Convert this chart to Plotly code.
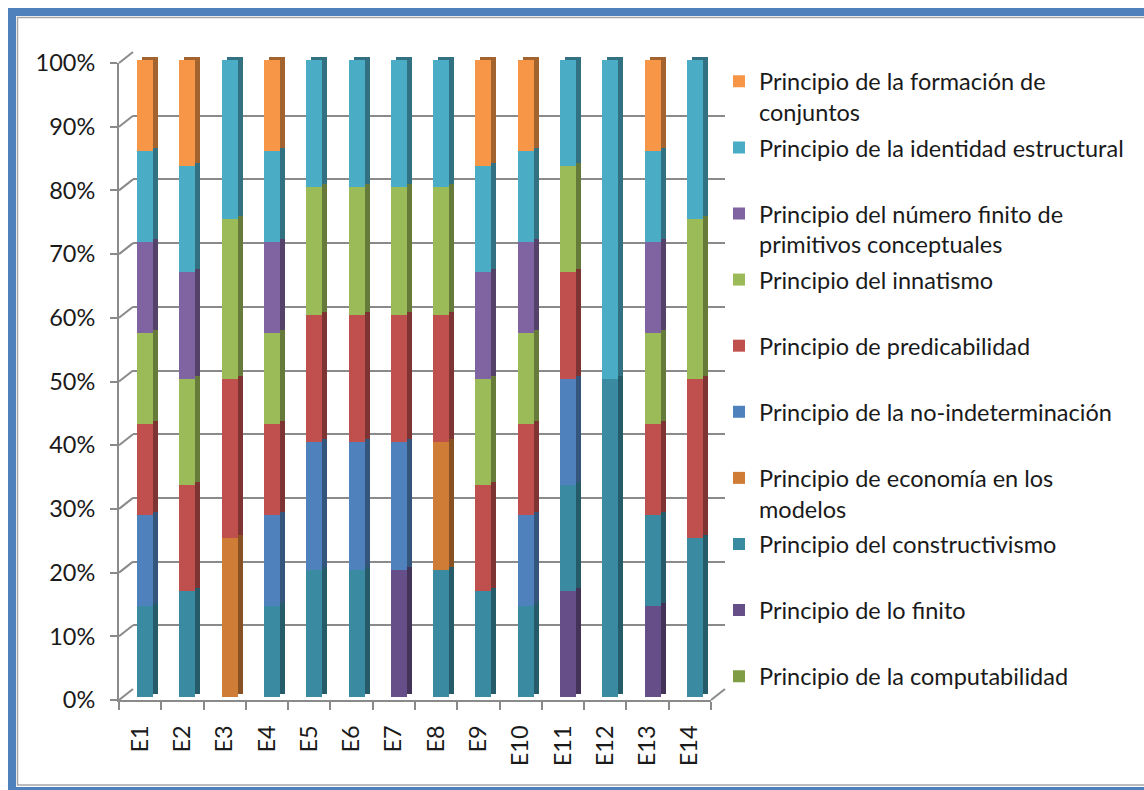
import plotly.graph_objects as go

# ---------------- data ----------------
categories = ["E1", "E2", "E3", "E4", "E5", "E6", "E7", "E8", "E9", "E10", "E11", "E12", "E13", "E14"]

# series listed bottom -> top of each stacked column
computabilidad   = [0, 0, 0, 0, 0, 0, 0, 0, 0, 0, 0, 0, 0, 0]
lo_finito        = [0, 0, 0, 0, 0, 0, 1, 0, 0, 0, 1, 0, 1, 0]
constructivismo  = [1, 1, 0, 1, 1, 1, 0, 1, 1, 1, 1, 1, 1, 1]
economia         = [0, 0, 1, 0, 0, 0, 0, 1, 0, 0, 0, 0, 0, 0]
no_indeterminac  = [1, 0, 0, 1, 1, 1, 1, 0, 0, 1, 1, 0, 0, 0]
predicabilidad   = [1, 1, 1, 1, 1, 1, 1, 1, 1, 1, 1, 0, 1, 1]
innatismo        = [1, 1, 1, 1, 1, 1, 1, 1, 1, 1, 1, 0, 1, 1]
numero_finito    = [1, 1, 0, 1, 0, 0, 0, 0, 1, 1, 0, 0, 1, 0]
identidad        = [1, 1, 1, 1, 1, 1, 1, 1, 1, 1, 1, 1, 1, 1]
formacion        = [1, 1, 0, 1, 0, 0, 0, 0, 1, 1, 0, 0, 1, 0]

series_names = [
    "Principio de la computabilidad",
    "Principio de lo finito",
    "Principio del constructivismo",
    "Principio de economía en los<br>modelos",
    "Principio de la no-indeterminación",
    "Principio de predicabilidad",
    "Principio del innatismo",
    "Principio del número finito de<br>primitivos conceptuales",
    "Principio de la identidad estructural",
    "Principio de la formación de<br>conjuntos",
]
series_values = [computabilidad, lo_finito, constructivismo, economia, no_indeterminac,
                 predicabilidad, innatismo, numero_finito, identidad, formacion]
series_colors = ["#7E9D45", "#664E88", "#3A8BA2", "#CF7C37", "#4F81BD",
                 "#C0504D", "#9BBB59", "#8064A2", "#4BACC6", "#F79646"]

y_ticks = [0, 10, 20, 30, 40, 50, 60, 70, 80, 90, 100]
y_ticktext = ["0%", "10%", "20%", "30%", "40%", "50%", "60%", "70%", "80%", "90%", "100%"]

# ---------------- geometry helpers ----------------
W, H = 1144, 790
FX0, FX1, FY0, FY1 = 119, 711, 700, 63     # front plane (px): x left/right, y of 0% / 100%
DEPTH = (14, -11)                           # shift to back wall
FACE = (5, -3)                              # bar front face shift
SIDE = (10, -6)                             # bar side/top face shift
GRID = "#8A8A8A"
FONT_SIZE = 23.5


def xd(px):
    return px / W


def yd(py):
    return 1 - py / H


def domains(shift):
    dx, dy = shift
    return [xd(FX0 + dx), xd(FX1 + dx)], [yd(FY0 + dy), yd(FY1 + dy)]


def darker(hexc, f=0.66):
    r, g, b = int(hexc[1:3], 16), int(hexc[3:5], 16), int(hexc[5:7], 16)
    return "rgb(%d,%d,%d)" % (r * f, g * f, b * f)


fig = go.Figure()

# empty traces so that the back-wall and front-plane subplots get drawn
fig.add_trace(go.Scatter(x=[], y=[], xaxis="x", yaxis="y", showlegend=False, hoverinfo="skip"))

bar_width = 0.38
# side / top faces (darker), drawn underneath
for name, vals, col in zip(series_names, series_values, series_colors):
    fig.add_trace(go.Bar(x=categories, y=vals, name=name, marker=dict(color=darker(col), line=dict(width=0)),
                         width=bar_width, xaxis="x2", yaxis="y2", showlegend=False, hoverinfo="skip"))
# front faces
n = len(series_names)
for i, (name, vals, col) in enumerate(zip(series_names, series_values, series_colors)):
    label = name if "<br>" in name else name + "<br> "
    fig.add_trace(go.Bar(x=categories, y=vals, name=label, marker=dict(color=col, line=dict(width=0)),
                         width=bar_width, xaxis="x3", yaxis="y3", legendgroup="g%d" % i,
                         legendrank=1000 + (n - i)))

fig.add_trace(go.Scatter(x=[], y=[], xaxis="x4", yaxis="y4", showlegend=False, hoverinfo="skip"))

hidden = dict(showgrid=False, zeroline=False, showticklabels=False, showline=False, ticks="", automargin=False)

bx, by = domains(DEPTH)
sx, sy = domains(SIDE)
fx, fy = domains(FACE)
px_, py_ = domains((0, 0))

cat_axis = dict(type="category", categoryarray=categories, range=[-0.5, len(categories) - 0.5], **hidden)

fig.update_layout(
    width=W, height=H,
    margin=dict(l=0, r=0, t=0, b=0, pad=0, autoexpand=False),
    paper_bgcolor="white", plot_bgcolor="rgba(0,0,0,0)",
    font=dict(family="Lato, 'Open Sans', sans-serif", size=FONT_SIZE, color="#1A1A1A"),
    barmode="stack", barnorm="percent",
    # back wall with gridlines
    xaxis=dict(domain=bx, anchor="y", range=[0, 1], **hidden),
    yaxis=dict(domain=by, anchor="x", range=[0, 100], tickmode="array", tickvals=y_ticks, showgrid=True,
               gridcolor=GRID, gridwidth=2, zeroline=False, showticklabels=False, showline=False,
               ticks="", automargin=False),
    # side faces
    xaxis2=dict(domain=sx, anchor="y2", **cat_axis),
    yaxis2=dict(domain=sy, anchor="x2", range=[0, 100], **hidden),
    # front faces
    xaxis3=dict(domain=fx, anchor="y3", **cat_axis),
    yaxis3=dict(domain=fy, anchor="x3", range=[0, 100], **hidden),
    # front plane axes with labels
    xaxis4=dict(domain=px_, anchor="y4", range=[-0.5, len(categories) - 0.5],
                tickmode="array", tickvals=list(range(len(categories))), ticktext=categories,
                tickangle=-90, ticks="", showgrid=False, zeroline=False, automargin=False,
                showline=True, linecolor=GRID, linewidth=2, ticklabelstandoff=14,
                tickfont=dict(size=FONT_SIZE),
                minor=dict(tickmode="array", tickvals=[i - 0.5 for i in range(len(categories) + 1)],
                           ticks="outside", ticklen=8, tickwidth=2, tickcolor=GRID, showgrid=False)),
    yaxis4=dict(domain=py_, anchor="x4", range=[0, 100], tickmode="array", tickvals=y_ticks,
                ticktext=y_ticktext, ticks="outside", ticklen=7, tickwidth=2, tickcolor=GRID,
                showgrid=False, zeroline=False, showline=True, linecolor=GRID, linewidth=2,
                ticklabelstandoff=10, automargin=False, tickfont=dict(size=FONT_SIZE)),
    legend=dict(x=xd(719), xanchor="left", y=yd(59.5), yanchor="top",
                traceorder="grouped", tracegroupgap=2, valign="top",
                bgcolor="rgba(0,0,0,0)", font=dict(size=FONT_SIZE)),
    showlegend=True,
)

# ---------------- 3D frame decoration ----------------
shapes = []
dx, dy = DEPTH
scale = (FY0 - FY1) / 100.0
for v in y_ticks:
    yf = FY0 - v * scale
    shapes.append(dict(type="line", xref="paper", yref="paper",
                       x0=xd(FX0), y0=yd(yf), x1=xd(FX0 + dx), y1=yd(yf + dy),
                       line=dict(color=GRID, width=2)))
shapes.append(dict(type="line", xref="paper", yref="paper",
                   x0=xd(FX1), y0=yd(FY0), x1=xd(FX1 + dx), y1=yd(FY0 + dy),
                   line=dict(color=GRID, width=2)))
# outer frame (blue border + thin grey inner line)
shapes.append(dict(type="rect", xref="paper", yref="paper",
                   x0=xd(12), y0=yd(12), x1=xd(1160), y1=yd(791),
                   line=dict(color="#4F81BD", width=8), fillcolor="rgba(0,0,0,0)", layer="above"))
shapes.append(dict(type="rect", xref="paper", yref="paper",
                   x0=xd(17.5), y0=yd(17.5), x1=xd(1160), y1=yd(785),
                   line=dict(color="#A6A6A6", width=1.5), fillcolor="rgba(0,0,0,0)", layer="above"))
fig.update_layout(shapes=shapes)

fig.write_html("out.html")
